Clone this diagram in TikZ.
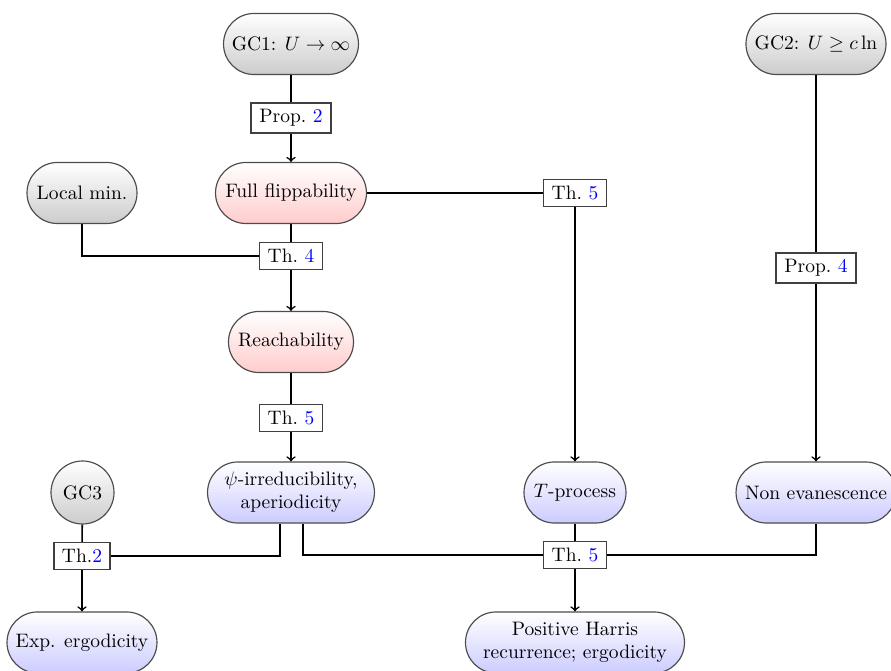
\documentclass[tikz,border=0pt]{standalone}
\usetikzlibrary{arrows}
\begin{document}
\begin{tikzpicture}[x=0.5128pt,y=-0.5128pt,
  base/.style={draw=black!70,line width=0.6pt,rounded corners=15.6pt,minimum height=31.3pt,inner sep=2pt,align=center,top color=white},
  gray node/.style={base,bottom color=black!20},
  red node/.style={base,bottom color=red!20},
  blue node/.style={base,bottom color=blue!20},
  lab/.style={draw=black!75,line width=0.8pt,fill=white,inner ysep=3.4pt,inner xsep=4.2pt},
  conn/.style={thick},
  arr/.style={thick,->}]
\useasboundingbox (0,0) rectangle (891,671);
% top row
\node[gray node,minimum width=69.2pt] (gc1) at (291,44) {GC1: $U\to\infty$};
\node[gray node,minimum width=71.8pt] (gc2) at (816,44) {GC2: $U\geq c\ln$};
\node[lab] (p2) at (291,118) {Prop.~\textcolor{blue}{2}};
\node[red node,minimum width=77.4pt] (ff) at (291,193) {Full flippability};
\node[gray node,minimum width=56.4pt] (lm) at (82,193) {Local min.};
\node[lab] (t5a) at (575,193) {Th.~\textcolor{blue}{5}};
\node[lab] (t4) at (291,256) {Th.~\textcolor{blue}{4}};
\node[lab] (p4) at (816,268) {Prop.~\textcolor{blue}{4}};
\node[red node,minimum width=64.1pt] (re) at (291,342) {Reachability};
\node[lab] (t5b) at (291,418) {Th.~\textcolor{blue}{5}};
\node[blue node,minimum width=85.6pt] (psi) at (291,492.5) {$\psi$-irreducibility,\\aperiodicity};
\node[gray node,circle,minimum size=32.3pt,inner sep=1pt] (gc3) at (82.5,492.5) {GC3};
\node[blue node,minimum width=52.3pt] (tp) at (575,492.5) {$T$-process};
\node[blue node,minimum width=82pt] (ne) at (816,492.5) {Non evanescence};
\node[lab] (t2) at (82,556) {Th.\textcolor{blue}{2}};
\node[lab] (t5c) at (575,555) {Th.~\textcolor{blue}{5}};
\node[blue node,minimum width=76.9pt] (ee) at (82,642.5) {Exp. ergodicity};
\node[blue node,minimum width=112.3pt] (ph) at (575,642.5) {Positive Harris\\recurrence; ergodicity};
% connectors
\draw[conn] (gc1) -- (p2);
\draw[arr] (p2) -- (ff);
\draw[conn] (ff) -- (t4);
\draw[conn] (lm.south) |- (t4.west);
\draw[arr] (t4) -- (re);
\draw[conn] (ff.east) -- (t5a.west);
\draw[arr] (t5a) -- (tp);
\draw[conn] (re) -- (t5b);
\draw[arr] (t5b) -- (psi);
\draw[conn] (gc2) -- (p4);
\draw[arr] (p4) -- (ne);
\draw[conn] (gc3) -- (t2);
\draw[arr] (t2) -- (ee);
\draw[conn] (psi.south) ++(-11,0) |- (t2.east);
\draw[conn] (psi.south) ++(12,0) |- (t5c.west);
\draw[conn] (tp) -- (t5c);
\draw[arr] (t5c) -- (ph);
\draw[conn] (ne.south) |- (t5c.east);
\end{tikzpicture}
\end{document}
